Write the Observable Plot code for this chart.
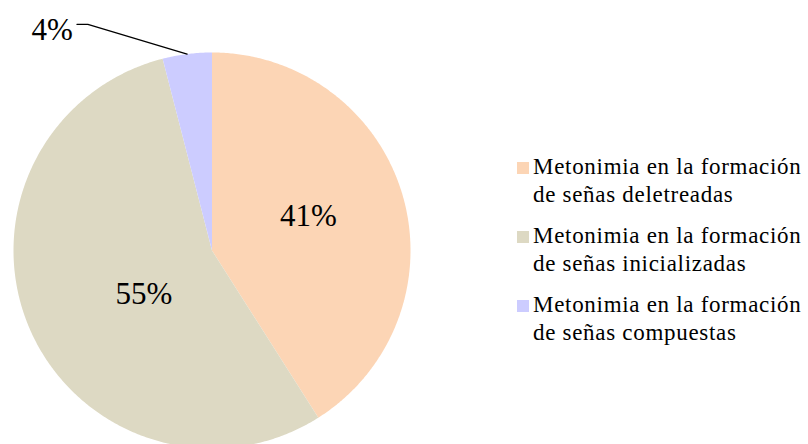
<!DOCTYPE html>
<html>
<head>
<meta charset="utf-8">
<script src="https://cdn.jsdelivr.net/npm/d3@7"></script>
<script src="https://cdn.jsdelivr.net/npm/@observablehq/plot@0.6"></script>
<style>
  html, body { margin: 0; padding: 0; background: #fff; overflow: hidden; }
  #wrap { position: relative; width: 808px; height: 444px; overflow: hidden; background: #fff; }
  #wrap svg { position: absolute; left: 0; top: 0; }
  .legend { position: absolute; left: 517px; font-family: "Liberation Serif"; font-size: 23px; color: #000; }
  .item { position: absolute; left: 0; white-space: nowrap; }
  .sw { position: absolute; left: 0; width: 12px; height: 12px; }
  .txt { position: absolute; left: 16px; line-height: 28px; letter-spacing: 0.7px; }
</style>
</head>
<body>
<div id="wrap"></div>
<script>
// ---- data ----
const categories = [
  "Metonimia en la formación de señas deletreadas",
  "Metonimia en la formación de señas inicializadas",
  "Metonimia en la formación de señas compuestas"
];
const legendLine1 = ["Metonimia en la formación", "Metonimia en la formación", "Metonimia en la formación"];
const legendLine2 = ["de señas deletreadas", "de señas inicializadas", "de señas compuestas"];
const percents = [41, 55, 4];
const colors = ["#FCD5B5", "#DDD9C3", "#CCCCFF"];

// ---- build slices ----
const arcs = d3.pie().sort(null).value(d => d)(percents);
const polys = [];
arcs.forEach((a, i) => {
  polys.push({cat: categories[i], x: 0, y: 0});
  const n = Math.max(4, Math.ceil((a.endAngle - a.startAngle) / (Math.PI / 360)));
  for (let k = 0; k <= n; k++) {
    const t = a.startAngle + (a.endAngle - a.startAngle) * k / n;
    polys.push({cat: categories[i], x: Math.sin(t), y: Math.cos(t)});
  }
  polys.push({cat: categories[i], x: 0, y: 0});
});

// label anchors at mid-angle
const mid = arcs.map(a => (a.startAngle + a.endAngle) / 2);
const inner = [0, 1].map(i => ({
  x: 0.5 * Math.sin(mid[i]), y: 0.5 * Math.cos(mid[i]),
  text: percents[i] + "%", i
}));
const inDx = [1, 23], inDy = [-7, 4];

// outside label for small slice
const m3 = mid[2];
const edge = {x: Math.sin(m3), y: Math.cos(m3)};
const leader = [
  edge,
  {x: edge.x - 0.50, y: edge.y + 0.15},
  {x: edge.x - 0.555, y: edge.y + 0.15}
];
const outLabel = [{x: edge.x - 0.68, y: edge.y + 0.12, text: percents[2] + "%"}];

const serif = "Liberation Serif";

const chart = Plot.plot({
  width: 808,
  height: 444,
  margin: 0,
  x: {domain: [-1, 1], range: [13, 410], axis: null},
  y: {domain: [-1, 1], range: [448, 52], axis: null},
  color: {domain: categories, range: colors},
  style: {background: "transparent", overflow: "hidden"},
  marks: [
    Plot.line(polys, {x: "x", y: "y", z: "cat", fill: "cat", stroke: "none", curve: "linear"}),
    Plot.text([inner[0]], {x: "x", y: "y", text: "text", fontSize: 31, fontFamily: serif, fill: "#000", dx: inDx[0], dy: inDy[0]}),
    Plot.text([inner[1]], {x: "x", y: "y", text: "text", fontSize: 31, fontFamily: serif, fill: "#000", dx: inDx[1], dy: inDy[1]}),
    Plot.line(leader, {x: "x", y: "y", stroke: "#000", strokeWidth: 1.3}),
    Plot.text(outLabel, {x: "x", y: "y", text: "text", fontSize: 31, fontFamily: serif, fill: "#000"})
  ]
});

const wrap = document.getElementById("wrap");
wrap.appendChild(chart);

// ---- legend ----
const legend = document.createElement("div");
legend.className = "legend";
legend.style.top = "0px";
const tops = [153.2, 222.2, 291.2];
categories.forEach((c, i) => {
  const item = document.createElement("div");
  item.className = "item";
  item.style.top = tops[i] + "px";
  const sw = document.createElement("div");
  sw.className = "sw";
  sw.style.background = colors[i];
  sw.style.top = "9px";
  const txt = document.createElement("div");
  txt.className = "txt";
  txt.style.top = "0px";
  txt.innerHTML = legendLine1[i] + "<br>" + legendLine2[i];
  item.appendChild(sw);
  item.appendChild(txt);
  legend.appendChild(item);
});
wrap.appendChild(legend);
</script>
</body>
</html>
